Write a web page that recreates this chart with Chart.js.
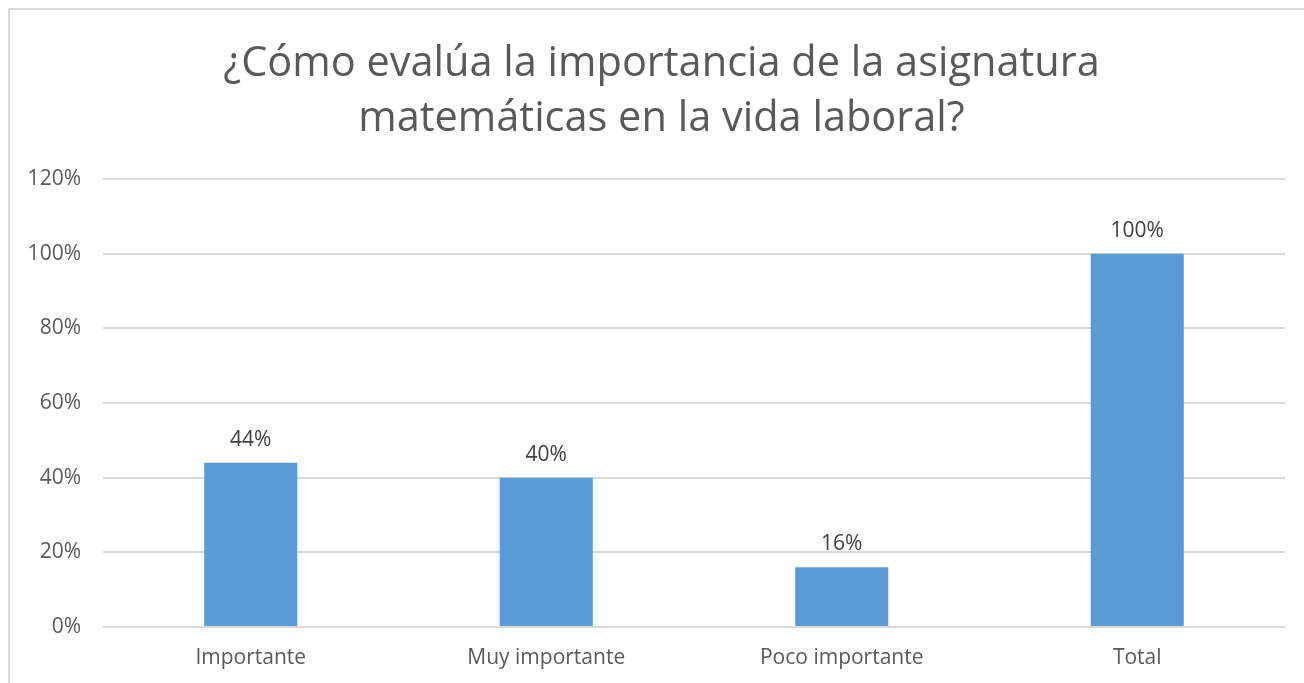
<!DOCTYPE html>
<html>
<head>
<meta charset="utf-8">
<script src="https://cdn.jsdelivr.net/npm/chart.js@4/dist/chart.umd.min.js"></script>
<style>
  html, body { margin: 0; padding: 0; background: #fff; overflow: hidden; }
  #wrap { position: relative; width: 1304px; height: 683px; }
  #frame { position: absolute; left: 8px; top: 8px; width: 1310px; height: 690px;
           border-left: 2px solid #d9d9d9; border-top: 2px solid #d9d9d9; pointer-events: none; }
</style>
</head>
<body>
<div id="wrap">
  <canvas id="chart" width="1304" height="683"></canvas>
  <div id="frame"></div>
</div>
<script>
var categories = ['Importante', 'Muy importante', 'Poco importante', 'Total'];
var values = [0.44, 0.40, 0.16, 1.00];
var yTicks = [0, 0.2, 0.4, 0.6, 0.8, 1.0, 1.2];
var titleLines = ['¿Cómo evalúa la importancia de la asignatura', 'matemáticas en la vida laboral?'];

function pct(v) {
  return Math.round(v * 100) + '%';
}

// data labels above each bar
var barLabels = {
  id: 'barLabels',
  afterDatasetsDraw: function(chart) {
    var ctx = chart.ctx;
    var meta = chart.getDatasetMeta(0);
    ctx.save();
    ctx.font = '21px "Open Sans"';
    ctx.fillStyle = '#404040';
    ctx.textAlign = 'center';
    ctx.textBaseline = 'alphabetic';
    meta.data.forEach(function(bar, i) {
      ctx.fillText(pct(values[i]), bar.x, bar.y - 17);
    });
    ctx.restore();
  }
};

Chart.defaults.font.family = '"Open Sans", sans-serif';

var chart = new Chart(document.getElementById('chart'), {
  type: 'bar',
  data: {
    labels: categories,
    datasets: [{
      data: values,
      backgroundColor: '#5b9bd5',
      borderWidth: 0,
      barPercentage: 0.315,
      categoryPercentage: 1
    }]
  },
  options: {
    responsive: false,
    animation: false,
    layout: { padding: { left: 19, right: 0, top: 0, bottom: 0 } },
    plugins: {
      legend: { display: false },
      tooltip: { enabled: false },
      title: {
        display: true,
        text: titleLines,
        color: '#595959',
        font: { size: 41.5, weight: 'normal', lineHeight: 1.325 },
        padding: { top: 37, bottom: 32 }
      }
    },
    scales: {
      x: {
        grid: { display: false, drawTicks: false },
        border: { display: false },
        ticks: { color: '#595959', font: { size: 21 }, padding: 18 },
        afterFit: function(scale) { scale.height = 56; }
      },
      y: {
        min: 0,
        max: 1.2,
        afterBuildTicks: function(scale) {
          scale.ticks = yTicks.map(function(v) { return { value: v }; });
        },
        grid: { color: '#d9d9d9', lineWidth: 2, drawTicks: false },
        border: { display: false },
        ticks: {
          color: '#595959',
          font: { size: 21 },
          padding: 22,
          callback: function(v) { return pct(v); }
        },
        afterFit: function(scale) { scale.width = 84; }
      },
      // empty spacer on the right so the title sits where the reference has it
      yRight: {
        type: 'linear',
        position: 'right',
        grid: { display: false, drawTicks: false },
        border: { display: false },
        ticks: { display: false },
        afterFit: function(scale) { scale.width = 19; }
      }
    }
  },
  plugins: [barLabels]
});
</script>
</body>
</html>
